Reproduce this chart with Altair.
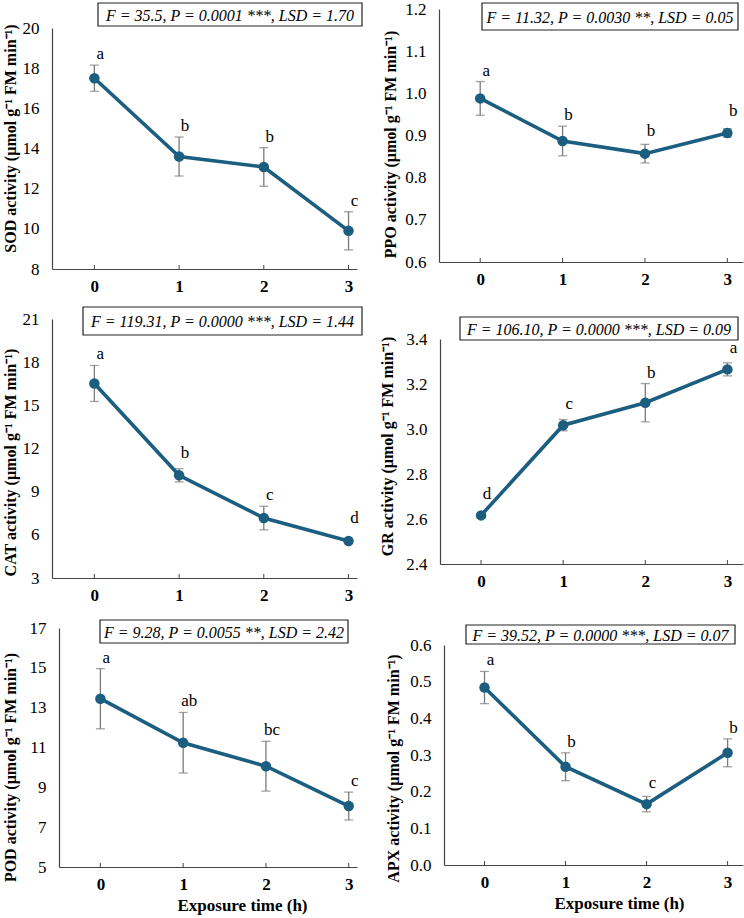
import altair as alt
import pandas as pd

# Exposure time (h)
hours = [0, 1, 2, 3]

# Enzyme activities (mean and standard error), with significance letters
sod_mean = [17.50, 13.60, 13.08, 9.90]
sod_se = [0.65, 0.97, 0.96, 0.95]
sod_letters = ["a", "b", "b", "c"]

ppo_mean = [0.988, 0.887, 0.857, 0.906]
ppo_se = [0.040, 0.035, 0.022, 0.010]
ppo_letters = ["a", "b", "b", "b"]

cat_mean = [16.52, 10.14, 7.17, 5.57]
cat_se = [1.25, 0.46, 0.82, 0.08]
cat_letters = ["a", "b", "c", "d"]

gr_mean = [2.616, 3.017, 3.117, 3.265]
gr_se = [0.008, 0.025, 0.085, 0.029]
gr_letters = ["d", "c", "b", "a"]

pod_mean = [13.45, 11.24, 10.06, 8.06]
pod_se = [1.51, 1.52, 1.25, 0.70]
pod_letters = ["a", "ab", "bc", "c"]

apx_mean = [0.484, 0.268, 0.166, 0.306]
apx_se = [0.044, 0.038, 0.021, 0.038]
apx_letters = ["a", "b", "c", "b"]

# ANOVA summaries
stats_text = [
    "F = 35.5, P = 0.0001 ***, LSD = 1.70",
    "F = 11.32, P = 0.0030 **, LSD = 0.05",
    "F = 119.31, P = 0.0000 ***, LSD = 1.44",
    "F = 106.10, P = 0.0000 ***, LSD = 0.09",
    "F = 9.28, P = 0.0055 **, LSD = 2.42",
    "F = 39.52, P = 0.0000 ***, LSD = 0.07",
]

enzymes = ["SOD", "PPO", "CAT", "GR", "POD", "APX"]
y_ticks = [
    [8, 10, 12, 14, 16, 18, 20],
    [0.6, 0.7, 0.8, 0.9, 1.0, 1.1, 1.2],
    [3, 6, 9, 12, 15, 18, 21],
    [2.4, 2.6, 2.8, 3.0, 3.2, 3.4],
    [5, 7, 9, 11, 13, 15, 17],
    [0.0, 0.1, 0.2, 0.3, 0.4, 0.5, 0.6],
]
y_formats = [".0f", ".1f", ".0f", ".1f", ".0f", ".1f"]

means = [sod_mean, ppo_mean, cat_mean, gr_mean, pod_mean, apx_mean]
ses = [sod_se, ppo_se, cat_se, gr_se, pod_se, apx_se]
letters = [sod_letters, ppo_letters, cat_letters, gr_letters, pod_letters, apx_letters]

# Layout of each panel inside its 372 x 306 cell (pixels)
CELL_W, CELL_H = 372, 306
layout = [
    # left, right, top, bottom, x max, y-title x/y, x-title x, box (x1, x2, y1, y2)
    dict(L=52, R=357, T=26, B=267, xmax=3.1, tx=-42, ty=136, xt=0, box=(98, 362, 1, 24)),
    dict(L=67, R=371, T=7, B=260, xmax=3.19, tx=-49, ty=142, xt=0, box=(110, 366, 1, 28)),
    dict(L=52, R=357, T=11, B=270, xmax=3.1, tx=-42, ty=154, xt=0, box=(83, 362, -1, 27)),
    dict(L=68, R=371, T=31, B=256, xmax=3.19, tx=-53, ty=138, xt=0, box=(88, 366, 9, 32)),
    dict(L=59, R=357, T=14, B=253, xmax=3.1, tx=-49, ty=153, xt=242, box=(100, 348, 6, 29)),
    dict(L=72, R=371, T=31, B=251, xmax=3.19, tx=-51, ty=154, xt=247, box=(94, 363, 11, 30)),
]

SERIF = "Liberation Serif"
LINE_COLOR = "#1b5e80"
ERR_COLOR = "#7a7a7a"
AXIS_COLOR = "#444444"


def panel(i):
    lay = layout[i]
    ticks = y_ticks[i]
    span = ticks[-1] - ticks[0]
    lo = [m - s for m, s in zip(means[i], ses[i])]
    hi = [m + s for m, s in zip(means[i], ses[i])]
    # letters sit on the error bar, or just above the point when the bar is tiny
    anchor = [max(h, m + 0.045 * span) for h, m in zip(hi, means[i])]
    df = pd.DataFrame({
        "t": hours, "v": means[i], "lo": lo, "hi": hi,
        "anchor": anchor, "letter": letters[i],
    })
    bottom_row = i >= 4

    x_axis_args = dict(
        values=hours, format="d", grid=False, tickSize=0,
        labelFont=SERIF, labelFontSize=17, labelFontWeight="bold", labelColor="black",
        labelPadding=9, labelFlush=False, labelOverlap=False,
        domainColor=AXIS_COLOR, domainWidth=1.2,
        offset=-(CELL_H - lay["B"]),
    )
    if bottom_row:
        x_axis_args.update(
            title="Exposure time (h)", titleFont=SERIF, titleFontSize=17,
            titleFontWeight="bold", titleColor="black",
            titleX=lay["xt"], titleY=38,
            titleAlign="center", titleBaseline="middle",
        )
    else:
        x_axis_args.update(title=None)

    x_scale = alt.Scale(domain=[-0.5, lay["xmax"]], range=[lay["L"], lay["R"]], nice=False, zero=False)
    y_scale = alt.Scale(domain=[ticks[0], ticks[-1]], range=[lay["B"], lay["T"]], nice=False, zero=False)

    y_axis = alt.Axis(
        values=ticks, format=y_formats[i], grid=False, tickSize=0,
        labelFont=SERIF, labelFontSize=17, labelColor="black",
        labelPadding=13, labelFlush=False, labelOverlap=False,
        domainColor=AXIS_COLOR, domainWidth=1.2,
        offset=-lay["L"],
        title=f"{enzymes[i]} activity (µmol g⁻¹ FM min⁻¹)",
        titleFont=SERIF, titleFontSize=16, titleFontWeight="bold", titleColor="black",
        titleAngle=270, titleX=lay["tx"], titleY=lay["ty"],
        titleAlign="center", titleBaseline="middle",
    )
    x_axis = alt.Axis(**x_axis_args)

    def xenc():
        return alt.X("t:Q", scale=x_scale, axis=x_axis)

    def yenc(field):
        return alt.Y(field, scale=y_scale, axis=y_axis)

    base = alt.Chart(df)

    err = base.mark_rule(color=ERR_COLOR, strokeWidth=1.3).encode(
        x=xenc(), y=yenc("lo:Q"), y2="hi:Q"
    )
    cap_lo = base.mark_tick(orient="horizontal", size=9, thickness=1.3, color=ERR_COLOR).encode(
        x=xenc(), y=yenc("lo:Q")
    )
    cap_hi = base.mark_tick(orient="horizontal", size=9, thickness=1.3, color=ERR_COLOR).encode(
        x=xenc(), y=yenc("hi:Q")
    )
    line = base.mark_line(color=LINE_COLOR, strokeWidth=3.6).encode(x=xenc(), y=yenc("v:Q"))
    pts = base.mark_circle(color=LINE_COLOR, size=110, opacity=1).encode(x=xenc(), y=yenc("v:Q"))
    lab = base.mark_text(
        font=SERIF, fontSize=17, color="black", align="center", baseline="bottom", dx=6, dy=-2
    ).encode(x=xenc(), y=yenc("anchor:Q"), text="letter:N")
    inner_ticks = base.mark_rule(color=AXIS_COLOR, strokeWidth=1).encode(
        x=xenc(), y=alt.value(lay["B"]), y2=alt.value(lay["B"] - 4)
    )

    x1, x2, y1, y2 = lay["box"]
    box_df = pd.DataFrame({"label": [stats_text[i]]})
    box = alt.Chart(box_df).mark_rect(fill="white", stroke="#222222", strokeWidth=1.2).encode(
        x=alt.value(x1), x2=alt.value(x2), y=alt.value(y1), y2=alt.value(y2)
    )
    box_text = alt.Chart(box_df).mark_text(
        font=SERIF, fontSize=16, fontStyle="italic", color="black", align="center", baseline="middle"
    ).encode(x=alt.value((x1 + x2) / 2), y=alt.value((y1 + y2) / 2 + 1), text="label:N")

    return alt.layer(err, cap_lo, cap_hi, line, pts, lab, inner_ticks, box, box_text).properties(
        width=CELL_W, height=CELL_H
    )


chart = alt.concat(
    *[panel(i) for i in range(6)], columns=2, spacing=0, bounds="flush"
).properties(
    padding=0, background="white"
).configure_view(strokeOpacity=0)

chart.save("out.html", embed_options={"renderer": "svg", "actions": False})
